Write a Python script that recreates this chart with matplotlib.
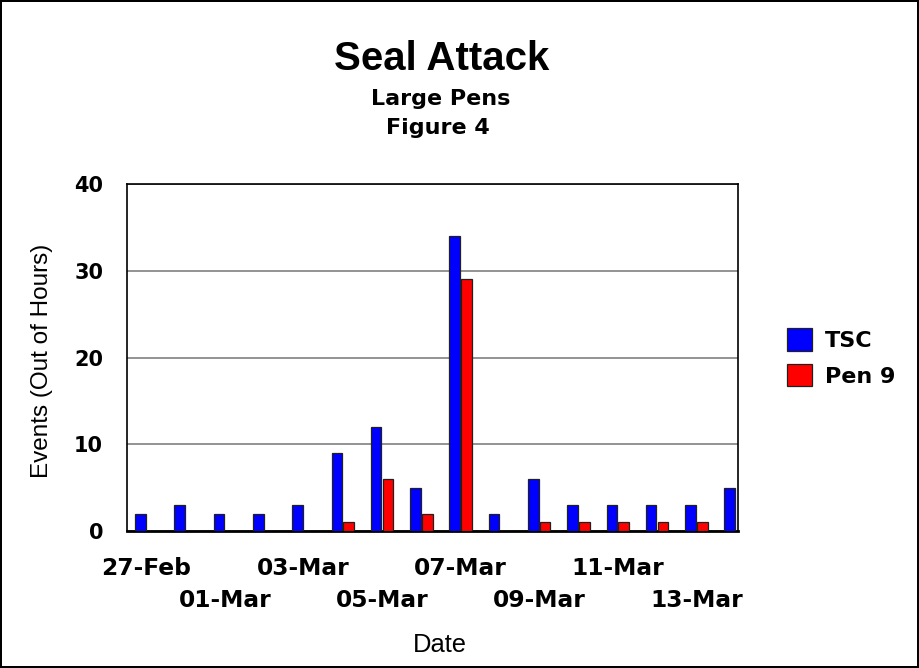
import matplotlib
matplotlib.use("Agg")
import matplotlib.pyplot as plt
import numpy as np

plt.rcParams['font.family'] = ['Liberation Sans', 'DejaVu Sans']

dates = ["27-Feb", "28-Feb", "01-Mar", "02-Mar", "03-Mar", "04-Mar", "05-Mar", "06-Mar",
         "07-Mar", "08-Mar", "09-Mar", "10-Mar", "11-Mar", "12-Mar", "13-Mar", "14-Mar"]
tsc = [2, 3, 2, 2, 3, 9, 12, 5, 34, 2, 6, 3, 3, 3, 3, 5]
pen9 = [0, 0, 0, 0, 0, 1, 6, 2, 29, 0, 1, 1, 1, 1, 1, 0]
series_names = ["TSC", "Pen 9"]
series_colors = ["#0000ff", "#ff0000"]
y_ticks = [0, 10, 20, 30, 40]

W, H = 919, 668
SPACED = "DejaVu Sans"   # wider bold face for the letter-spaced labels

fig = plt.figure(figsize=(W / 100, H / 100), dpi=100)
fig.patch.set_facecolor("white")
fig.patch.set_edgecolor("black")
fig.patch.set_linewidth(1.5)

ax_left, ax_right, ax_top, ax_bottom = 126.7, 738, 184, 531
ax = fig.add_axes([ax_left / W, 1 - ax_bottom / H,
                   (ax_right - ax_left) / W, (ax_bottom - ax_top) / H])

x = np.arange(len(dates))
w = 0.268
ax.bar(x - 0.15, tsc, width=w, color=series_colors[0], edgecolor="#202020",
       linewidth=0.9, label=series_names[0], zorder=3)
ax.bar(x + 0.15, pen9, width=w, color=series_colors[1], edgecolor="#202020",
       linewidth=0.9, label=series_names[1], zorder=3)

ax.set_xlim(-0.5, 15.06)
ax.set_ylim(0, 40)
ax.set_yticks(y_ticks)
ax.set_yticklabels([str(v) for v in y_ticks], fontsize=15, fontweight="bold",
                   family=SPACED)
ax.yaxis.grid(True, color="#808080", linewidth=1.2, zorder=0)
ax.set_axisbelow(True)
ax.tick_params(axis="y", length=0, pad=17)
ax.tick_params(axis="x", length=0)

# date labels on every other day, staggered over two rows
ax.set_xticks(x[::2])
ax.set_xticklabels([])
for i in range(0, len(dates), 2):
    row = (i // 2) % 2
    ax.annotate(dates[i], xy=(x[i], 0), xycoords=("data", "axes fraction"),
                xytext=(0, -44 - 31.7 * row), textcoords="offset pixels",
                ha="center", va="baseline", fontsize=16.8, fontweight="bold",
                family=SPACED)

for side in ["left", "top", "right"]:
    ax.spines[side].set_color("black")
    ax.spines[side].set_linewidth(1.2)
ax.spines["bottom"].set_color("black")
ax.spines["bottom"].set_linewidth(2)

ax.set_ylabel("Events (Out of Hours)", fontsize=17.5, va="center")
ax.yaxis.set_label_coords((42 - ax_left) / (ax_right - ax_left),
                          (ax_bottom - 360.5) / (ax_bottom - ax_top))
ax.set_xlabel("Date", fontsize=18.4, va="baseline")
ax.xaxis.set_label_coords((440 - ax_left) / (ax_right - ax_left),
                          (ax_bottom - 651.7) / (ax_bottom - ax_top))

fig.text(442 / W, 1 - 70.5 / H, "Seal Attack", ha="center", va="baseline",
         fontsize=29, fontweight="bold")
fig.text(441 / W, 1 - 105 / H, "Large Pens", ha="center", va="baseline",
         fontsize=16, fontweight="bold", family=SPACED)
fig.text(438 / W, 1 - 134 / H, "Figure 4", ha="center", va="baseline",
         fontsize=16, fontweight="bold", family=SPACED)

fig.legend(loc="center left", bbox_to_anchor=(786.7 / W, 1 - 357.5 / H),
           frameon=False, prop={"weight": "bold", "size": 16, "family": SPACED},
           handlelength=1.13, handleheight=1.17, handletextpad=0.6,
           labelspacing=0.57, borderaxespad=0, borderpad=0)

fig.savefig("out.png", dpi=100)
